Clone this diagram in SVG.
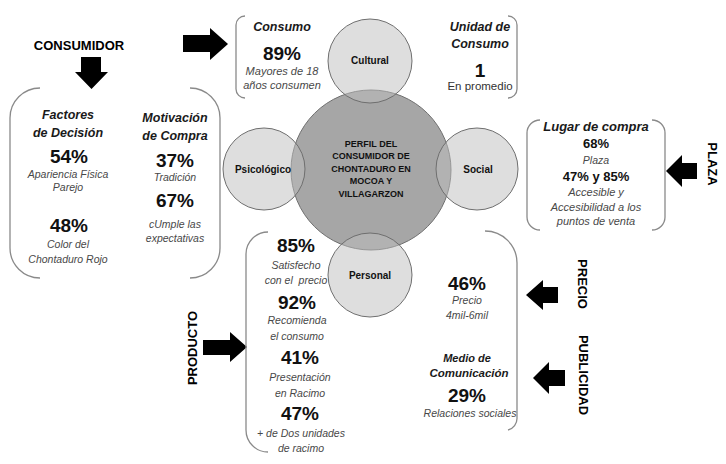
<svg xmlns="http://www.w3.org/2000/svg" width="726" height="464" viewBox="0 0 726 464">
<style>
text{font-family:"Liberation Sans",Arial,sans-serif;text-anchor:middle}
.t{font-weight:bold;font-size:13px;fill:#000}
.h{font-weight:bold;font-style:italic;font-size:12.5px;fill:#1a1a1a}
.p{font-weight:bold;font-size:19px;fill:#111}
.ps{font-weight:bold;font-size:13px;fill:#111}
.d{font-style:italic;font-size:10.5px;fill:#484848}
.r{font-size:11.5px;fill:#333}
.cl{font-weight:bold;font-size:10px;fill:#111}
.ml{font-weight:bold;font-size:9px;fill:#111}
.br{fill:none;stroke:#8a8a8a;stroke-width:1.3}
.ar{fill:#000}
.big{fill:#a6a6a6;stroke:#6f6f6f;stroke-width:1}
.sm{fill:#bdbdbd;fill-opacity:0.5;stroke:#6f6f6f;stroke-width:1}
</style>
<rect width="726" height="464" fill="#fff"/>

<g id="connectors">
<polygon class="ar" points="81,57 101,57 101,72 108,72 91.5,89 75,72 81,72"/>
<polygon class="ar" points="183,35 210,35 210,28 228,44 210,60 210,52 183,52"/>
<polygon class="ar" points="697,163 682,163 682,155 666,171 682,187 682,179 697,179"/>
<polygon class="ar" points="558,287 543,287 543,280 526,295 543,310 543,303 558,303"/>
<polygon class="ar" points="565,370 549,370 549,362 533,378 549,394 549,386 565,386"/>
<polygon class="ar" points="203,340 230,340 230,332 247,347 230,362 230,355 203,355"/>
</g>

<g id="consumidor">
<text class="t" x="79" y="50">CONSUMIDOR</text>
</g>
<g id="plaza">
<text class="t" transform="translate(707.5,164) rotate(90)">PLAZA</text>
</g>
<g id="precio">
<text class="t" transform="translate(577.5,284) rotate(90)">PRECIO</text>
</g>
<g id="publicidad">
<text class="t" transform="translate(578.5,375) rotate(90)">PUBLICIDAD</text>
</g>
<g id="producto">
<text class="t" transform="translate(196.5,348) rotate(-90)">PRODUCTO</text>
</g>

<g id="box-left">
<path class="br" d="M40 88 A30 30 0 0 0 10 118 V248 A30 30 0 0 0 40 278"/>
<path class="br" d="M190 88 A30 30 0 0 1 220 118 V248 A30 30 0 0 1 190 278"/>
<text class="h" x="68" y="119">Factores</text>
<text class="h" x="68" y="137">de Decisión</text>
<text class="p" x="69" y="163">54%</text>
<text class="d" x="68" y="178">Apariencia Física</text>
<text class="d" x="68" y="191">Parejo</text>
<text class="p" x="69" y="232">48%</text>
<text class="d" x="68" y="248">Color del</text>
<text class="d" x="68" y="263">Chontaduro Rojo</text>
<text class="h" x="175" y="122">Motivación</text>
<text class="h" x="175" y="140">de Compra</text>
<text class="p" x="175" y="167">37%</text>
<text class="d" x="175" y="181">Tradición</text>
<text class="p" x="175" y="207">67%</text>
<text class="d" x="175" y="228">cUmple las</text>
<text class="d" x="175" y="242">expectativas</text>
</g>

<g id="box-top">
<path class="br" d="M245 16 A9 9 0 0 0 236 25 V89 A9 9 0 0 0 245 98"/>
<path class="br" d="M508 16 A9 9 0 0 1 517 25 V89 A9 9 0 0 1 508 98"/>
<text class="h" x="282" y="31">Consumo</text>
<text class="p" x="282" y="60">89%</text>
<text class="d" x="282" y="75" style="font-size:11px">Mayores de 18</text>
<text class="d" x="282" y="89" style="font-size:11px">años consumen</text>
<text class="h" x="480" y="31">Unidad de</text>
<text class="h" x="480" y="48">Consumo</text>
<text class="p" x="480" y="77">1</text>
<text class="r" x="480" y="90">En promedio</text>
</g>

<g id="box-plaza">
<path class="br" d="M540 120 A13 13 0 0 0 527 133 V217 A13 13 0 0 0 540 230"/>
<path class="br" d="M652 120 A13 13 0 0 1 665 133 V217 A13 13 0 0 1 652 230"/>
<text class="h" x="596" y="131" style="font-size:13px">Lugar de compra</text>
<text class="ps" x="596" y="148">68%</text>
<text class="d" x="596" y="164">Plaza</text>
<text class="ps" x="596" y="181">47% y 85%</text>
<text class="d" x="596" y="196" style="font-size:11px">Accesible y</text>
<text class="d" x="596" y="211" style="font-size:11px">Accesibilidad a los</text>
<text class="d" x="596" y="225" style="font-size:11px">puntos de venta</text>
</g>

<g id="box-bottom">
<path class="br" d="M268 232 A22 22 0 0 0 246 254 V430 A22 22 0 0 0 268 452"/>
<path class="br" d="M485 231 A32 32 0 0 1 517 263 V418 A12 12 0 0 1 508 430"/>
<text class="p" x="296" y="252">85%</text>
<text class="d" x="296" y="269">Satisfecho</text>
<text class="d" x="296" y="284" xml:space="preserve">con el  precio</text>
<text class="p" x="297" y="309">92%</text>
<text class="d" x="297" y="324">Recomienda</text>
<text class="d" x="297" y="340">el consumo</text>
<text class="p" x="300" y="364">41%</text>
<text class="d" x="300" y="381">Presentación</text>
<text class="d" x="300" y="397">en Racimo</text>
<text class="p" x="300" y="420">47%</text>
<text class="d" x="301" y="437">+ de Dos unidades</text>
<text class="d" x="301" y="452">de racimo</text>
<text class="p" x="467" y="290">46%</text>
<text class="d" x="467" y="304">Precio</text>
<text class="d" x="467" y="319">4mil-6mil</text>
<text class="h" x="467" y="362" style="font-size:11px">Medio de</text>
<text class="h" x="469" y="377" style="font-size:11.5px">Comunicación</text>
<text class="p" x="467" y="402">29%</text>
<text class="d" x="470" y="417">Relaciones sociales</text>
</g>

<g id="perfil">
<circle class="big" cx="371" cy="170" r="80"/>
<text class="ml" x="371" y="146.5">PERFIL DEL</text>
<text class="ml" x="371" y="159">CONSUMIDOR DE</text>
<text class="ml" x="371" y="171.5">CHONTADURO EN</text>
<text class="ml" x="371" y="184">MOCOA Y</text>
<text class="ml" x="371" y="196.5">VILLAGARZON</text>
</g>
<g id="cultural">
<circle class="sm" cx="370" cy="61" r="42"/>
<text class="cl" x="370" y="64">Cultural</text>
</g>
<g id="psicologico">
<circle class="sm" cx="264" cy="169" r="41"/>
<text class="cl" x="263" y="172.5">Psicológico</text>
</g>
<g id="social">
<circle class="sm" cx="477" cy="169" r="41"/>
<text class="cl" x="478" y="172.5">Social</text>
</g>
<g id="personal">
<circle class="sm" cx="370" cy="275" r="42"/>
<text class="cl" x="370" y="278.5">Personal</text>
</g>
</svg>
